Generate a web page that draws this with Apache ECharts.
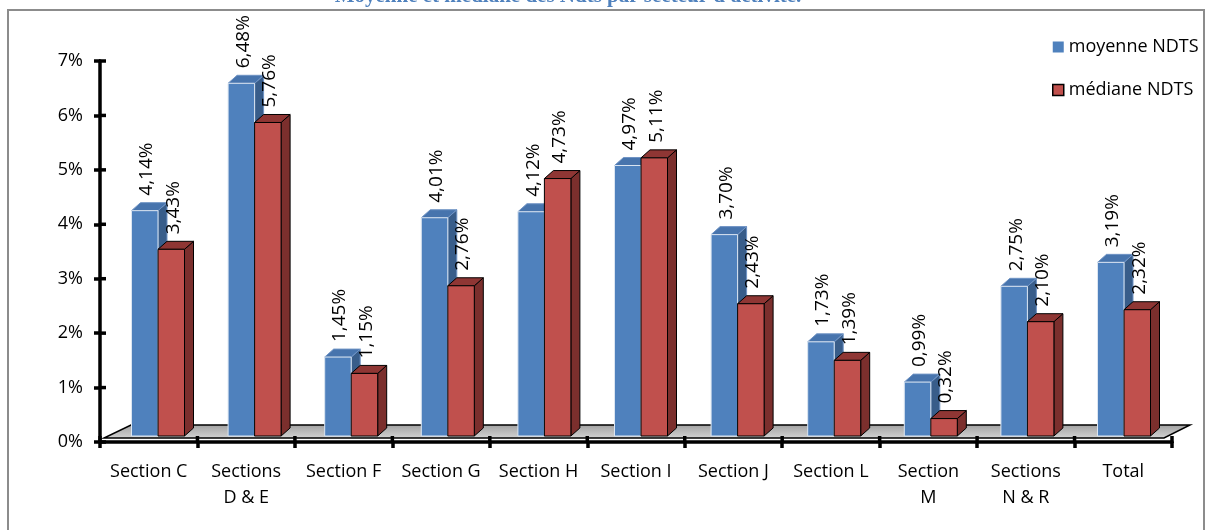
<!DOCTYPE html>
<html><head><meta charset="utf-8">
<script src="https://cdn.jsdelivr.net/npm/echarts@6/dist/echarts.min.js"></script>
<style>html,body{margin:0;padding:0;background:#fff}#c{width:1210px;height:530px}</style>
</head><body><div id="c"></div>
<script>
var categories = ['Section C', 'Sections\nD & E', 'Section F', 'Section G', 'Section H', 'Section I', 'Section J', 'Section L', 'Section\nM', 'Sections\nN & R', 'Total'];
var moyenne = [4.14, 6.48, 1.45, 4.01, 4.12, 4.97, 3.70, 1.73, 0.99, 2.75, 3.19];
var mediane = [3.43, 5.76, 1.15, 2.76, 4.73, 5.11, 2.43, 1.39, 0.32, 2.10, 2.32];
var yTicks = [0, 1, 2, 3, 4, 5, 6, 7];
var seriesNames = ['moyenne NDTS', 'médiane NDTS'];
var titleText = "Moyenne et médiane des Ndts par secteur d'activité.";

var FONT = '"Open Sans", "Liberation Sans", sans-serif';
var DX = 9, DY = -8, BW = 26.5, TICK = 6;

function fmt(v) { return v.toFixed(2).replace('.', ',') + '%'; }

function makeRender(sideIdx, front, frontStroke, topC, sideC, edge) {
  return function (params, api) {
    var i = api.value(0), v = api.value(1);
    var b = api.coord([i, 0]), t = api.coord([i, v]);
    var c = b[0];
    var x0 = sideIdx === 0 ? c - BW : c;
    var x1 = x0 + BW;
    var yb = b[1], yt = t[1];
    var children = [
      { type: 'polygon', shape: { points: [[x1, yb], [x1 + DX, yb + DY], [x1 + DX, yt + DY], [x1, yt]] },
        style: { fill: sideC, stroke: edge, lineWidth: 1 } },
      { type: 'polygon', shape: { points: [[x0, yt], [x1, yt], [x1 + DX, yt + DY], [x0 + DX, yt + DY]] },
        style: { fill: topC, stroke: edge, lineWidth: 1 } },
      { type: 'rect', shape: { x: x0, y: yt, width: BW, height: yb - yt },
        style: { fill: front, stroke: frontStroke, lineWidth: 1 } },
      { type: 'text', x: (x0 + x1) / 2 + 2, y: yt + DY - 7, rotation: Math.PI / 2,
        style: { text: fmt(v), fill: '#000', font: '19px ' + FONT, align: 'left', verticalAlign: 'middle' } }
    ];
    return { type: 'group', children: children };
  };
}

// crossing tick marks on the value axis (inner half)
function renderYTicks(params, api) {
  var p = api.coord([0, api.value(1)]);
  var bw = api.size([1, 0])[0];
  var x = p[0] - bw / 2;
  return { type: 'line', shape: { x1: x - 1, y1: p[1], x2: x + TICK, y2: p[1] },
    style: { stroke: '#000', lineWidth: 3.5 } };
}
// crossing tick marks on the category axis (inner half)
function renderXTicks(params, api) {
  var i = api.value(0);
  var p = api.coord([i, 0]);
  var bw = api.size([1, 0])[0];
  var lines = [{ type: 'line', shape: { x1: p[0] - bw / 2, y1: p[1] + 1, x2: p[0] - bw / 2, y2: p[1] - TICK },
    style: { stroke: '#000', lineWidth: 3.5 } }];
  if (i === categories.length - 1) {
    lines.push({ type: 'line', shape: { x1: p[0] + bw / 2, y1: p[1] + 1, x2: p[0] + bw / 2, y2: p[1] - TICK },
      style: { stroke: '#000', lineWidth: 3.5 } });
  }
  return { type: 'group', children: lines };
}

var axisStyle = { color: '#000', width: 3.5 };
var chart = echarts.init(document.getElementById('c'));
var option = {
  animation: false,
  backgroundColor: '#fff',
  textStyle: { fontFamily: FONT },
  grid: [
    { left: 100, top: 61, width: 1072, height: 381 },
    { left: 109.7, top: 55, width: 1062.6, height: 381 }
  ],
  graphic: [
    { type: 'rect', z: -10, shape: { x: 8, y: 10, width: 1196, height: 540 },
      style: { fill: 'none', stroke: '#8c8c8c', lineWidth: 2 } },
    { type: 'text', z: 10, x: 568, y: 7,
      style: { text: titleText, fill: '#4F81BD', font: 'bold 21px "Liberation Serif", serif', align: 'center', verticalAlign: 'bottom' } },
    { type: 'polygon', z: 0, shape: { points: [[104, 438], [1164, 438], [1190, 425], [131, 425]] },
      style: { fill: new echarts.graphic.LinearGradient(0, 0, 0, 1, [{ offset: 0, color: '#a0a0a0' }, { offset: 1, color: '#d4d4d4' }]), stroke: '#000', lineWidth: 1.5 } }
  ],
  legend: {
    orient: 'vertical', left: 1047, top: 33, itemGap: 25, itemWidth: 11, itemHeight: 11, icon: 'rect',
    textStyle: { fontSize: 18, color: '#000', fontFamily: FONT },
    data: [
      { name: seriesNames[0], itemStyle: { color: '#4F81BD', borderWidth: 0 } },
      { name: seriesNames[1], itemStyle: { color: '#C0504D', borderColor: '#000', borderWidth: 1.5 } }
    ]
  },
  xAxis: [
    { type: 'category', gridIndex: 0, data: categories, position: 'bottom', z: 5,
      axisLine: { lineStyle: axisStyle },
      axisTick: { show: true, length: TICK, lineStyle: axisStyle },
      axisLabel: { color: '#000', fontSize: 18, margin: 17, lineHeight: 26, interval: 0, fontFamily: FONT } },
    { type: 'category', gridIndex: 1, data: categories, show: false }
  ],
  yAxis: [
    { type: 'value', gridIndex: 0, min: 0, max: 7, interval: 1, z: 5, position: 'left',
      axisLine: { show: true, lineStyle: axisStyle },
      axisTick: { show: true, length: TICK, lineStyle: axisStyle },
      splitLine: { show: false },
      axisLabel: { color: '#000', fontSize: 18, margin: 17, fontFamily: FONT, formatter: '{value}%' } },
    { type: 'value', gridIndex: 1, min: 0, max: 7, interval: 1, show: false }
  ],
  series: [
    { name: seriesNames[0], type: 'custom', xAxisIndex: 1, yAxisIndex: 1, z: 3,
      itemStyle: { color: '#4F81BD' },
      renderItem: makeRender(0, '#4F81BD', '#dbe5f1', '#4774ad', '#385D8A', '#6f93c4'),
      data: moyenne.map(function (v, i) { return [i, v]; }) },
    { name: seriesNames[1], type: 'custom', xAxisIndex: 1, yAxisIndex: 1, z: 4,
      itemStyle: { color: '#C0504D' },
      renderItem: makeRender(1, '#C0504D', '#000', '#8f3634', '#7B2F2D', '#000'),
      data: mediane.map(function (v, i) { return [i, v]; }) },
    { name: 'yticks', type: 'custom', xAxisIndex: 0, yAxisIndex: 0, z: 6, silent: true, clip: false,
      renderItem: renderYTicks,
      data: yTicks.map(function (v) { return [0, v]; }) },
    { name: 'xticks', type: 'custom', xAxisIndex: 0, yAxisIndex: 0, z: 6, silent: true, clip: false,
      renderItem: renderXTicks,
      data: categories.map(function (c, i) { return [i, 0]; }) }
  ]
};
chart.setOption(option);
</script>
</body></html>
